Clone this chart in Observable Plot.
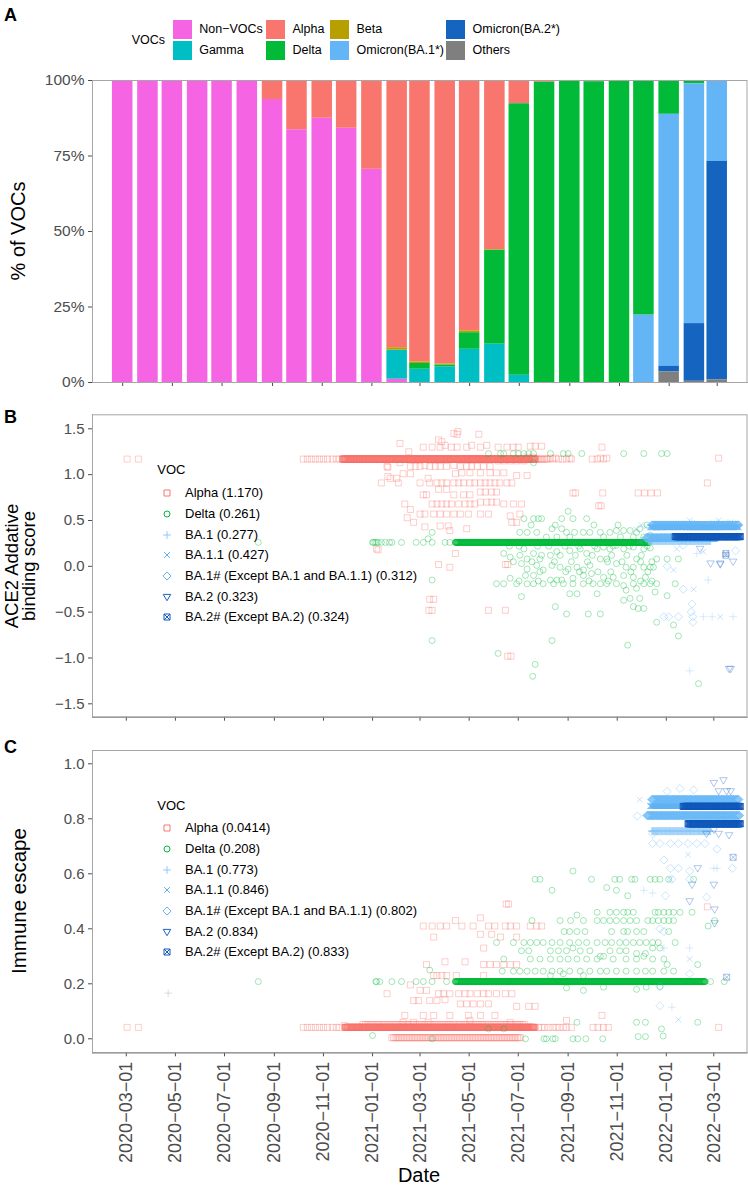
<!DOCTYPE html>
<html>
<head>
<meta charset="utf-8">
<script src="https://cdn.jsdelivr.net/npm/d3@7"></script>
<script src="https://cdn.jsdelivr.net/npm/@observablehq/plot@0.6"></script>
<style>
  body { margin: 0; background: #fff; }
  #fig { position: relative; width: 748px; height: 1185px; overflow: hidden;
         font-family: "Liberation Sans", Arial, Helvetica, sans-serif; color: #000; }
  #fig svg { position: absolute; left: 0; }
  .txt { position: absolute; white-space: nowrap; }
</style>
</head>
<body>
<div id="fig"></div>
<script>
// ---------------- Panel A: monthly share of VOCs (%) ----------------
const months = ["2020-03-01","2020-04-01","2020-05-01","2020-06-01","2020-07-01","2020-08-01","2020-09-01",
  "2020-10-01","2020-11-01","2020-12-01","2021-01-01","2021-02-01","2021-03-01","2021-04-01","2021-05-01",
  "2021-06-01","2021-07-01","2021-08-01","2021-09-01","2021-10-01","2021-11-01","2021-12-01","2022-01-01",
  "2022-02-01","2022-03-01"];
const vocNames = ["Non-VOCs","Gamma","Alpha","Delta","Beta","Omicron(BA.1*)","Omicron(BA.2*)","Others"];
const shareNonVOCs = [100,100,100,100,100,100,93.7,83.7,87.5,84.2,70.6,1.1,0,0,0,0,0,0,0,0,0,0,0,0,0];
const shareGamma   = [0,0,0,0,0,0,0,0,0,0,0,9.6,4.4,5.2,11.0,12.7,2.4,0,0,0,0,0,0,0,0];
const shareAlpha   = [0,0,0,0,0,0,6.3,16.3,12.5,15.8,29.4,88.5,93.2,93.9,82.9,56.0,7.7,0.6,0,0.4,0,0,0,0,0];
const shareDelta   = [0,0,0,0,0,0,0,0,0,0,0,0,1.9,0.6,5.5,31.1,89.9,99.4,100,99.6,100,77.7,11.2,1.1,0];
const shareBeta    = [0,0,0,0,0,0,0,0,0,0,0,0.8,0.5,0.3,0.6,0.2,0,0,0,0,0,0,0,0,0];
const shareBA1     = [0,0,0,0,0,0,0,0,0,0,0,0,0,0,0,0,0,0,0,0,0,22.3,83.4,79.4,26.8];
const shareBA2     = [0,0,0,0,0,0,0,0,0,0,0,0,0,0,0,0,0,0,0,0,0,0,1.9,19.1,72.3];
const shareOthers  = [0,0,0,0,0,0,0,0,0,0,0,0,0,0,0,0,0,0,0,0,0,0,3.5,0.4,0.9];
const stackOrder = ["Others","Omicron(BA.2*)","Omicron(BA.1*)","Non-VOCs","Gamma","Delta","Beta","Alpha"];

// shared date ticks and value ticks
const tickDates = ["2020-03-01","2020-05-01","2020-07-01","2020-09-01","2020-11-01","2021-01-01","2021-03-01",
  "2021-05-01","2021-07-01","2021-09-01","2021-11-01","2022-01-01","2022-03-01"];
const pctTicks = [0, 25, 50, 75, 100];
const bindingTicks = [-1.5, -1, -0.5, 0, 0.5, 1, 1.5];
const escapeTicks = [0, 0.2, 0.4, 0.6, 0.8, 1.0];

// ---------------- Panel B: ACE2 additive binding score ----------------
// runs: [first day, last day, score, every n days, sequences per sampled day]
const alphaRunsB = [["2020-11-25","2021-07-22",1.17,1,3],["2021-07-24","2021-08-08",1.17,2,1]];
const alphaRowsB = [
 [1.17, ["2020-03-02","2020-03-16","2020-10-07","2020-10-12","2020-10-17","2020-10-22","2020-10-27","2020-11-01","2020-11-06","2020-11-12","2020-11-17","2020-11-21","2021-08-13","2021-08-20","2021-08-25","2021-08-30","2021-09-05","2021-10-01","2021-10-07","2021-10-15"]],
 [1.47, ["2021-04-17"]], [1.45, ["2021-04-12"]], [1.44, ["2021-04-16","2021-05-13"]],
 [1.38, ["2021-03-24"]], [1.36, ["2021-03-28"]], [1.34, ["2021-02-04"]],
 [1.32, ["2021-04-01","2021-05-04","2021-05-23"]], [1.31, ["2021-07-16","2021-07-22","2021-07-30"]],
 [1.30, ["2021-03-05","2021-03-16","2021-03-26","2021-04-09","2021-04-16","2021-04-28","2021-05-15","2021-06-06","2021-06-17","2021-06-25","2021-07-01","2021-10-13"]],
 [1.25, ["2021-02-15"]], [1.19, ["2021-07-12","2021-07-20"]],
 [1.18, ["2021-08-10","2021-08-16","2021-09-03","2021-10-11","2021-10-19","2022-03-07"]],
 [1.15, ["2021-06-06","2021-06-13","2021-06-21","2021-06-29","2021-07-08"]],
 [1.13, ["2021-02-04"]], [1.10, ["2021-03-07","2021-04-12"]],
 [1.09, ["2021-01-19","2021-02-17","2021-02-23","2021-03-01","2021-03-13","2021-03-20","2021-03-26","2021-04-03","2021-04-20","2021-04-28","2021-05-04","2021-05-11","2021-05-19","2021-05-27"]],
 [1.08, ["2021-01-20"]],
 [1.02, ["2021-04-22","2021-05-02","2021-05-15","2021-05-27","2021-06-04","2021-06-13"]],
 [1.01, ["2021-02-08","2021-02-17","2021-04-14"]], [0.99, ["2021-06-29","2021-07-12"]],
 [0.98, ["2021-01-20"]], [0.96, ["2021-01-23","2021-01-31","2021-03-11"]],
 [0.91, ["2021-01-12","2021-02-02","2021-03-01","2021-03-13","2021-03-22","2021-03-28","2021-04-03","2021-04-12","2021-04-18","2021-04-24","2021-05-02","2021-05-08","2021-05-15","2021-05-21","2021-05-27","2021-06-02","2021-06-08","2021-06-17","2021-06-23","2022-02-21"]],
 [0.84, ["2021-03-24","2021-04-03"]], [0.81, ["2021-05-15","2021-05-21","2021-05-29","2021-06-04"]],
 [0.80, ["2021-09-07","2021-09-10","2021-10-14","2021-11-27","2021-12-05","2021-12-13","2021-12-21"]],
 [0.78, ["2021-03-05","2021-03-09","2021-04-12","2021-04-24","2021-05-02"]],
 [0.70, ["2021-05-15","2021-05-23","2021-05-29","2021-06-04"]],
 [0.68, ["2021-02-10","2021-03-16","2021-03-22","2021-03-28","2021-04-03","2021-04-09","2021-04-18","2021-04-26","2021-05-02","2021-05-08","2021-06-13","2021-06-25","2021-07-05"]],
 [0.66, ["2021-10-09","2021-10-12"]], [0.62, ["2021-02-17"]],
 [0.57, ["2021-03-01","2021-03-07","2021-03-18","2021-03-26","2021-04-03","2021-04-12","2021-04-20","2021-04-30","2021-05-15","2021-05-25","2021-07-03"]],
 [0.55, ["2021-06-21"]], [0.53, ["2021-02-13"]], [0.48, ["2021-02-21","2021-06-23","2021-06-29"]],
 [0.44, ["2021-03-26","2021-04-05"]], [0.43, ["2021-03-07"]], [0.41, ["2021-04-28"]], [0.39, ["2021-04-07"]],
 [0.19, ["2021-01-06"]], [0.18, ["2021-01-08"]], [0.14, ["2021-04-14"]],
 [0.02, ["2021-03-24","2021-06-15","2021-06-18"]], [-0.01, ["2021-04-07"]],
 [-0.36, ["2021-03-13","2021-03-18"]], [-0.48, ["2021-03-12","2021-03-16","2021-05-25","2021-06-15"]],
 [-0.98, ["2021-06-18","2021-06-22"]]
];
const deltaRunsB = [["2021-04-14","2021-12-10",0.261,1,3]];
const deltaRowsB = [
 [0.261, ["2020-08-12","2021-01-01","2021-01-02","2021-01-04","2021-01-06","2021-01-08","2021-01-12","2021-01-17","2021-01-22","2021-01-25","2021-02-06","2021-02-24","2021-03-05","2021-03-16","2021-04-01","2021-04-07"]],
 [1.23, ["2021-05-25","2021-06-09","2021-06-13","2021-06-25","2021-07-01","2021-07-08","2021-07-14","2021-07-20","2021-08-10","2021-08-26","2021-09-01","2021-09-18","2021-11-09","2021-12-04","2021-12-26","2022-01-02"]],
 [1.13, ["2021-07-20"]], [0.60, ["2021-09-01"]],
 [0.52, ["2021-07-08","2021-07-20","2021-07-26","2021-07-30","2021-08-24","2021-09-07","2021-09-24"]],
 [0.45, ["2021-07-17","2021-08-16","2021-10-03","2021-11-02","2021-12-08"]],
 [0.41, ["2021-08-12","2021-08-24","2021-11-29"]], [0.39, ["2021-10-31","2021-11-09","2021-11-17"]],
 [0.37, ["2021-03-16","2021-07-03","2021-07-12","2021-07-24","2021-08-30","2021-09-09","2021-09-20","2021-09-28","2021-10-11","2021-10-23","2021-11-25"]],
 [0.34, ["2021-12-12"]],
 [0.32, ["2021-08-05","2021-08-18","2021-09-03","2021-10-15","2021-11-05","2021-11-21","2021-12-04"]],
 [0.30, ["2021-03-11"]], [0.23, ["2021-10-31"]],
 [0.22, ["2021-06-20","2021-07-02","2021-07-25","2021-08-08","2021-08-28","2021-09-14","2021-10-04","2021-10-27","2021-11-16","2021-12-08"]],
 [0.21, ["2021-10-15","2021-11-21"]], [0.20, ["2021-12-12"]],
 [0.19, ["2021-07-08","2021-09-16","2021-10-07","2021-10-23","2021-11-09","2021-12-04"]],
 [0.17, ["2021-09-03"]], [0.16, ["2021-08-18"]], [0.14, ["2021-06-13","2021-07-20","2021-09-24"]],
 [0.12, ["2021-07-03","2021-07-30","2021-08-10","2021-08-22","2021-09-10","2021-10-01","2021-10-25","2021-11-13","2021-12-01"]],
 [0.10, ["2021-06-21"]],
 [0.08, ["2021-07-12","2021-07-28","2021-10-11","2021-10-19","2021-11-25","2021-12-20","2022-01-02","2022-01-16"]],
 [0.05, ["2021-06-25","2021-07-18","2021-08-15","2021-09-05","2021-09-25","2021-10-20","2021-11-07","2021-11-30","2021-12-14"]],
 [0.03, ["2021-07-05","2021-10-31"]], [0.01, ["2021-07-24","2021-08-12","2021-09-28"]],
 [-0.01, ["2021-08-22","2021-09-12","2021-11-12","2021-11-21","2021-12-04","2021-12-12","2021-12-16"]],
 [-0.03, ["2021-07-12","2021-09-01"]], [-0.04, ["2021-08-01","2021-09-20"]],
 [-0.06, ["2021-07-28","2021-08-29","2021-09-15","2021-10-08","2021-10-24","2021-11-18","2021-12-09"]],
 [-0.08, ["2021-09-30"]],
 [-0.10, ["2021-07-10","2021-07-20","2021-09-20","2021-11-09"]],
 [-0.12, ["2021-10-15","2021-10-27","2021-11-21","2021-12-06"]], [-0.13, ["2021-06-21","2021-09-07"]],
 [-0.15, ["2021-03-16","2021-08-10","2021-08-18","2021-08-24"]],
 [-0.16, ["2021-07-02","2021-07-26","2021-09-27","2021-10-21","2021-11-30","2021-12-14"]],
 [-0.19, ["2021-06-04","2021-06-13","2021-06-29","2021-07-12","2021-07-20","2021-08-01","2021-08-14","2021-08-26","2021-09-07","2021-09-20","2021-10-02","2021-10-11","2021-10-19","2021-10-31","2021-11-21","2021-12-04","2021-12-12","2021-12-20","2022-01-12"]],
 [-0.21, ["2021-11-09"]], [-0.24, ["2021-11-25"]], [-0.26, ["2021-11-12"]], [-0.28, ["2021-12-18"]],
 [-0.30, ["2021-09-03","2021-09-12","2021-10-07"]], [-0.32, ["2022-01-02"]], [-0.33, ["2021-07-05"]],
 [-0.35, ["2021-11-17","2021-11-29"]], [-0.37, ["2021-11-09"]], [-0.44, ["2021-08-16","2021-11-21"]],
 [-0.46, ["2021-11-27","2021-12-04"]], [-0.52, ["2021-08-30","2021-09-26","2021-10-11"]],
 [-0.61, ["2021-12-20"]], [-0.64, ["2022-01-10"]], [-0.76, ["2022-01-16"]], [-0.81, ["2021-03-16","2021-08-12"]],
 [-0.86, ["2021-11-14"]], [-0.95, ["2021-06-06"]], [-1.07, ["2021-07-22"]], [-1.20, ["2021-07-19"]], [-1.28, ["2022-02-10"]]
];
const ba1RunsB = [["2021-12-10","2022-02-25",0.277,1,3]];
const ba1RowsB = [[0.14,["2022-02-08"]],[-0.15,["2022-02-22"]],[-0.55,["2022-02-16","2022-02-27","2022-03-25"]],[-1.14,["2022-01-30"]]];
const ba11RunsB = [["2021-12-12","2022-04-01",0.427,1,3]];
const ba11RowsB = [[0.50,["2022-01-30","2022-03-07"]],[0.48,["2022-03-22"]],[0.45,["2021-12-01"]],[0.43,["2021-12-07"]],[0.40,["2021-11-25"]],[0.29,["2021-12-03"]],[0.27,["2021-11-29"]],[0.19,["2022-01-14"]],[0.16,["2022-02-16"]],[-0.04,["2022-01-10"]],[-0.25,["2022-02-04"]],[-0.55,["2022-03-09"]]];
const ba1sRunsB = [["2021-12-14","2022-04-01",0.45,1,3],["2021-12-07","2022-03-05",0.312,1,3]];
const ba1sRowsB = [[0.23,["2022-01-22"]],[0.17,["2022-03-28"]],[0.00,["2022-01-02"]],[-0.25,["2022-01-22"]],[-0.41,["2022-02-02"]],[-0.50,["2022-02-01"]],[-0.55,["2021-12-29","2022-01-04","2022-01-16","2022-02-03"]],[-0.61,["2022-02-03"]]];
const ba2RunsB = [];
const ba2RowsB = [[0.323,["2022-02-05","2022-02-14","2022-02-24","2022-03-06","2022-03-16","2022-03-26"]],[0.19,["2022-02-12"]],[0.05,["2022-03-25"]],[0.03,["2022-02-25","2022-03-09"]],[0.02,["2022-03-09"]],[-1.12,["2022-03-20","2022-03-22"]]];
const ba2sRunsB = [["2022-01-12","2022-04-03",0.324,1,3]];
const ba2sRowsB = [[0.12,["2022-03-16"]],[0.14,["2022-03-16"]]];
const legendB = ["Alpha (1.170)","Delta (0.261)","BA.1 (0.277)","BA.1.1 (0.427)","BA.1# (Except BA.1 and BA.1.1) (0.312)","BA.2 (0.323)","BA.2# (Except BA.2) (0.324)"];

// ---------------- Panel C: immune escape ----------------
const alphaRunsC = [["2020-11-28","2021-07-21",0.0414,1,3],["2020-12-20","2021-07-10",0.052,3,1],["2021-01-25","2021-07-05",0.004,2,1]];
const alphaRowsC = [
 [0.0414, ["2020-03-02","2020-03-16","2020-10-07","2020-10-12","2020-10-17","2020-10-22","2020-10-27","2020-11-01","2020-11-06","2020-11-12","2020-11-17","2020-11-21","2021-07-26","2021-07-30","2021-08-03","2021-08-08","2021-08-13","2021-08-17","2021-08-21","2021-08-26","2021-08-30","2021-09-05","2021-10-02","2021-10-08","2021-10-15","2021-10-21","2022-03-07"]],
 [0.048, ["2020-11-27"]], [0.49, ["2021-06-16","2021-06-19"]], [0.48, ["2022-02-21"]], [0.44, ["2021-05-15"]], [0.43, ["2021-04-14"]],
 [0.41, ["2021-03-05","2021-03-16","2021-03-26","2021-04-03","2021-04-22","2021-05-06","2021-05-25","2021-06-02","2021-06-15","2021-06-21","2021-06-29","2021-07-16","2021-07-24","2021-07-30"]],
 [0.38, ["2021-05-15","2021-05-29"]], [0.37, ["2021-03-18","2021-06-09","2021-06-29"]], [0.33, ["2021-05-19"]],
 [0.28, ["2021-04-01","2021-04-26"]],
 [0.27, ["2021-03-09","2021-05-19","2021-05-27","2021-06-04","2021-06-13","2021-06-21","2021-06-29"]],
 [0.23, ["2021-03-18","2021-03-22","2021-03-28","2021-04-03","2021-04-15","2021-05-19"]],
 [0.196, ["2021-02-17"]], [0.176, ["2021-03-01","2021-03-09"]],
 [0.164, ["2021-01-19","2021-03-24","2021-03-30","2021-04-07","2021-04-18","2021-04-26","2021-05-02","2021-05-11","2021-05-19","2021-05-25","2021-06-04","2021-06-15","2021-06-23"]],
 [0.142, ["2021-04-01"]], [0.139, ["2021-02-21","2021-02-27","2021-03-13","2021-03-22"]],
 [0.127, ["2021-04-20","2021-04-28","2021-05-06","2021-05-15","2021-05-25"]], [0.118, ["2021-06-29","2021-07-14","2021-07-22"]],
 [0.085, ["2021-02-10","2021-03-05","2021-03-18","2021-04-07","2021-04-30","2021-05-15","2021-06-02","2021-10-13"]],
 [0.067, ["2021-05-02","2021-08-30"]], [0.06, ["2021-02-08","2021-02-21","2021-03-11","2021-06-21"]]
];
const deltaRunsC = [["2021-04-14","2022-02-18",0.208,1,3]];
const deltaRowsC = [
 [0.208, ["2020-08-12","2021-01-05","2021-01-06","2021-01-10","2021-01-25","2021-02-06","2021-02-24","2021-03-05","2021-03-16","2021-04-03","2022-02-25","2022-03-14"]],
 [0.61, ["2021-09-07"]],
 [0.58, ["2021-07-22","2021-07-28","2021-09-30","2021-10-29","2021-11-04","2021-11-19","2021-11-23","2021-12-12","2021-12-18","2021-12-24","2022-01-04","2022-02-04"]],
 [0.55, ["2021-10-19"]], [0.54, ["2021-08-12","2021-10-31"]], [0.52, ["2021-11-14"]],
 [0.46, ["2021-10-07","2021-10-23","2021-10-31","2021-11-09","2021-11-14","2021-11-21","2021-12-18","2021-12-22","2021-12-29","2022-01-04","2022-01-10","2022-01-18","2022-02-02"]],
 [0.45, ["2021-09-12"]],
 [0.43, ["2021-07-18","2021-08-22","2021-09-04","2021-09-20","2021-10-07","2021-10-15","2021-10-23","2021-10-31","2021-11-09","2021-11-17","2021-11-25","2021-12-09","2021-12-15","2021-12-22","2021-12-29","2022-01-04","2022-01-10","2022-03-02"]],
 [0.41, ["2022-02-22"]],
 [0.39, ["2021-08-27","2021-09-03","2021-09-12","2021-09-22","2021-10-25","2021-11-09","2021-11-14","2021-11-25","2021-12-04","2022-01-04"]],
 [0.35, ["2021-06-04","2021-06-25","2021-07-08","2021-07-16","2021-07-24","2021-08-01","2021-08-12","2021-08-22","2021-09-03","2021-09-14","2021-09-24","2021-10-07","2021-10-17","2021-10-25","2021-11-04","2021-11-12","2021-11-21","2021-11-29","2021-12-07","2021-12-15","2021-12-22","2022-01-12"]],
 [0.33, ["2021-09-07","2021-12-15","2021-12-24"]],
 [0.32, ["2021-07-05","2021-07-14","2021-08-10","2021-08-20","2021-08-30","2021-09-16","2021-09-28","2021-10-23","2021-11-04","2021-11-12"]],
 [0.31, ["2021-11-25","2021-12-06"]], [0.30, ["2021-10-11","2021-10-15","2021-12-04"]],
 [0.29, ["2021-06-13","2021-07-16","2021-07-28","2021-08-10","2021-08-22","2021-09-01","2021-09-12","2021-09-24","2021-10-07","2021-10-27","2021-11-12","2021-11-25","2021-12-15","2021-12-29"]],
 [0.27, ["2022-01-02","2022-02-09"]], [0.25, ["2021-03-13"]],
 [0.246, ["2021-06-11","2021-06-25","2021-07-03","2021-07-12","2021-07-22","2021-08-01","2021-08-12","2021-08-22","2021-09-03","2021-09-16","2021-09-28","2021-10-11","2021-10-19","2021-10-31","2021-11-12","2021-11-25","2021-12-06","2021-12-15","2021-12-29","2022-01-10"]],
 [0.236, ["2021-08-26"]], [0.23, ["2021-08-10","2021-09-20"]], [0.19, ["2021-12-24"]],
 [0.188, ["2021-10-15","2021-12-07"]], [0.185, ["2021-08-30"]], [0.18, ["2021-11-25"]], [0.176, ["2021-09-20"]],
 [0.06, ["2021-09-12","2021-11-25","2021-12-06","2022-02-09"]], [0.036, ["2021-05-25","2021-06-13","2021-12-26"]],
 [0.012, ["2021-01-01"]], [0.01, ["2021-12-28"]], [0.008, ["2021-11-27","2021-12-06"]],
 [0.0, ["2021-03-16","2021-07-10","2021-08-02","2021-08-05","2021-08-13","2021-08-16","2021-09-07","2021-09-13","2021-09-23","2021-10-14"]]
];
const ba1RunsC = [["2021-12-14","2022-02-25",0.755,1,3]];
const ba1RowsC = [[0.62,["2022-03-01","2022-03-05"]],[0.54,["2021-12-04"]],[0.53,["2021-12-15"]],[0.33,["2021-12-29","2022-01-30"]],[0.115,["2022-01-08"]]];
const ba11RunsC = [["2021-12-12","2022-02-10",0.846,1,3]];
const ba11RowsC = [[0.87,["2021-11-29"]],[0.67,["2022-01-28"]],[0.58,["2022-01-06"]],[0.29,["2022-01-30"]],[0.07,["2022-01-16"]]];
const ba1sRunsC = [["2021-12-14","2022-04-01",0.87,1,3],["2021-12-08","2022-04-02",0.812,1,3]];
const ba1sRowsC = [[0.905,["2022-02-04"]],[0.91,["2022-01-18"]],[0.90,["2022-01-02"]],[0.81,["2021-11-26"]],[0.745,["2021-12-15"]],
 [0.71,["2021-12-15","2021-12-24","2022-01-06","2022-01-16","2022-01-28","2022-02-08","2022-02-18"]],[0.69,["2022-03-05"]],[0.65,["2021-12-29"]],
 [0.62,["2022-01-06","2022-01-16","2022-03-24"]],[0.61,["2022-01-30"]],[0.58,["2022-01-08","2022-01-30"]],[0.52,["2021-12-31"]],[0.515,["2022-02-20"]],
 [0.40,["2021-12-24"]],[0.39,["2021-12-29"]],[0.236,["2022-01-30"]],[0.19,["2021-12-24"]],[0.12,["2021-12-24"]]];
const ba2RunsC = [];
const ba2RowsC = [[0.94,["2022-03-13"]],[0.93,["2022-03-01"]],[0.90,["2022-03-07","2022-03-17","2022-03-22"]],[0.76,["2022-03-01"]],[0.745,["2022-02-20","2022-03-07"]],[0.74,["2022-03-20"]],[0.62,["2022-02-09"]],[0.56,["2022-02-02","2022-03-01"]],[0.50,["2022-01-30"]],[0.47,["2022-03-02"]],[0.42,["2022-03-02"]]];
const ba2sRunsC = [["2022-01-22","2022-04-03",0.845,1,3],["2022-01-28","2022-04-03",0.782,1,3]];
const ba2sRowsC = [[0.66,["2022-03-25"]],[0.224,["2022-03-17"]]];
const unassignedRowsC = [[0.166,["2020-04-22"]]];
const legendC = ["Alpha (0.0414)","Delta (0.208)","BA.1 (0.773)","BA.1.1 (0.846)","BA.1# (Except BA.1 and BA.1.1) (0.802)","BA.2 (0.834)","BA.2# (Except BA.2) (0.833)"];

// ---------------- styling ----------------
const vocColors = ["#F564E3","#00BFC4","#F8766D","#00BA38","#B79F00","#64B5F6","#1565C0","#7F7F7F"];
const lineageColors = {Alpha:"#F8766D", Delta:"#00BA38", BA1:"#90CAF9", BA11:"#5AAEF2", BA1s:"#64B5F6", BA2:"#1E63C8", BA2s:"#1559BC", none:"#9E9E9E"};
const FONT = "'Liberation Sans', Arial, Helvetica, sans-serif";

// hollow marker shapes; size arrives as pi*r^2
const rad = s => Math.sqrt(s / Math.PI);
const SHAPES = {
  square:  {draw(c, s) { const r = rad(s); c.rect(-r, -r, 2 * r, 2 * r); }},
  circle:  {draw(c, s) { const r = rad(s); c.moveTo(r, 0); c.arc(0, 0, r, 0, 2 * Math.PI); }},
  plus:    {draw(c, s) { const r = rad(s) * 1.3; c.moveTo(-r, 0); c.lineTo(r, 0); c.moveTo(0, -r); c.lineTo(0, r); }},
  times:   {draw(c, s) { const r = rad(s) * 0.95; c.moveTo(-r, -r); c.lineTo(r, r); c.moveTo(-r, r); c.lineTo(r, -r); }},
  diamond: {draw(c, s) { const r = rad(s) * 1.35; c.moveTo(0, -r); c.lineTo(r, 0); c.lineTo(0, r); c.lineTo(-r, 0); c.closePath(); }},
  triDown: {draw(c, s) { const r = rad(s) * 1.25; c.moveTo(-r, -r * 0.7); c.lineTo(r, -r * 0.7); c.lineTo(0, r); c.closePath(); }},
  squareX: {draw(c, s) { const r = rad(s); c.rect(-r, -r, 2 * r, 2 * r); c.moveTo(-r, -r); c.lineTo(r, r); c.moveTo(-r, r); c.lineTo(r, -r); }}
};
const lineageStyle = [
  ["Alpha","square"],["Delta","circle"],["BA1","plus"],["BA11","times"],["BA1s","diamond"],["BA2","triDown"],["BA2s","squareX"]
];

// ---------------- helpers ----------------
const day = s => new Date(s + "T00:00:00Z");
const expandRuns = runs => runs.flatMap(([a, b, score, step = 1, perDay = 1]) =>
  d3.utcDay.range(day(a), d3.utcDay.offset(day(b), 1), step)
    .flatMap(date => d3.range(perDay).map(() => ({date, score}))));
const expandRows = rows => rows.flatMap(([score, dates]) => dates.map(s => ({date: day(s), score})));
const ticksX = tickDates.map(day);
const fig = document.getElementById("fig");

function addText(txt, css) {
  const d = document.createElement("div");
  d.className = "txt";
  d.style.cssText += css;
  d.innerHTML = txt;
  fig.appendChild(d);
  return d;
}
function placeSvg(svg, top) { svg.style.top = top + "px"; fig.appendChild(svg); }

const baseStyle = {fontFamily: FONT, fontSize: "15px", color: "#4D4D4D", background: "transparent", overflow: "visible"};

// ---------------- Panel A ----------------
const shares = [shareNonVOCs, shareGamma, shareAlpha, shareDelta, shareBeta, shareBA1, shareBA2, shareOthers];
const barRows = months.flatMap((m, i) => vocNames.map((v, k) => ({month: day(m), voc: v, pct: shares[k][i]})));
const halfBar = 12.6 * 864e5;

const plotA = Plot.plot({
  width: 748, height: 400, marginLeft: 92, marginRight: 1.5, marginTop: 80, marginBottom: 18,
  style: {...baseStyle, fontSize: "15.5px"},
  x: {type: "utc", domain: [new Date("2020-01-23T22:00Z"), new Date("2022-04-06T14:00Z")],
      ticks: ticksX, tickFormat: () => "", tickSize: 4, line: true, label: null},
  y: {domain: [0, 100], ticks: pctTicks, tickFormat: d => d + "%", tickSize: 4, tickPadding: 4, line: true, label: null},
  color: {domain: vocNames, range: vocColors},
  marks: [
    Plot.rectY(barRows, Plot.stackY({
      x1: d => new Date(+d.month - halfBar), x2: d => new Date(+d.month + halfBar),
      y: "pct", fill: "voc", order: stackOrder
    })),
    Plot.frame({stroke: "#A6A6A6"})
  ]
});
placeSvg(plotA, 0);

// ---------------- Panels B and C ----------------
const xBC = [new Date("2020-01-19T00:00Z"), new Date("2022-04-11T06:00Z")];

function scatterMarks(sets) {
  return sets.map(([key, shape, runs, rows]) =>
    Plot.dot([...expandRuns(runs), ...expandRows(rows)], {
      x: "date", y: "score", symbol: SHAPES[shape], r: 3,
      stroke: lineageColors[key], strokeOpacity: 0.4, strokeWidth: 0.9, fill: "none"
    }));
}

const setsB = [
  ["Alpha","square",alphaRunsB,alphaRowsB],["Delta","circle",deltaRunsB,deltaRowsB],
  ["BA1","plus",ba1RunsB,ba1RowsB],["BA11","times",ba11RunsB,ba11RowsB],
  ["BA1s","diamond",ba1sRunsB,ba1sRowsB],["BA2","triDown",ba2RunsB,ba2RowsB],["BA2s","squareX",ba2sRunsB,ba2sRowsB]
];
const plotB = Plot.plot({
  width: 748, height: 330, marginLeft: 92, marginRight: 1.5, marginTop: 14.3, marginBottom: 13.3,
  style: baseStyle,
  x: {type: "utc", domain: xBC, ticks: ticksX, tickFormat: () => "", tickSize: 4, line: true, label: null},
  y: {domain: [-1.646, 1.653], ticks: bindingTicks, tickFormat: d3.format(".1f"), tickSize: 4, tickPadding: 4, line: true, label: null},
  marks: [Plot.frame({stroke: "#A6A6A6"}), ...scatterMarks(setsB)]
});
placeSvg(plotB, 400);

const setsC = [
  ["Alpha","square",alphaRunsC,alphaRowsC],["Delta","circle",deltaRunsC,deltaRowsC],
  ["BA1","plus",ba1RunsC,ba1RowsC],["BA11","times",ba11RunsC,ba11RowsC],
  ["BA1s","diamond",ba1sRunsC,ba1sRowsC],["BA2","triDown",ba2RunsC,ba2RowsC],["BA2s","squareX",ba2sRunsC,ba2sRowsC],
  ["none","plus",[],unassignedRowsC]
];
const dateLabel = d3.utcFormat("%Y-%m-%d");
const plotC = Plot.plot({
  width: 748, height: 455, marginLeft: 92, marginRight: 1.5, marginTop: 20, marginBottom: 132.7,
  style: baseStyle,
  x: {type: "utc", domain: xBC, ticks: ticksX, tickFormat: d => dateLabel(d).replace(/-/g, "\u2212"),
      tickRotate: -90, tickSize: 4, tickPadding: 5, line: true, label: null},
  y: {domain: [-0.0509, 1.0484], ticks: escapeTicks, tickFormat: d3.format(".1f"), tickSize: 4, tickPadding: 4, line: true, label: null},
  marks: [Plot.frame({stroke: "#A6A6A6"}), ...scatterMarks(setsC)]
});
placeSvg(plotC, 730);
// larger date labels on the shared bottom axis
plotC.querySelectorAll('[aria-label="x-axis tick label"] text, [aria-label="x-axis"] text')
  .forEach(t => t.setAttribute("font-size", "18"));

// ---------------- titles and panel letters ----------------
const vtitle = (html, cx, cy, size, lh) => addText(html,
  `left:${cx}px;top:${cy}px;transform:translate(-50%,-50%) rotate(-90deg);text-align:center;font-size:${size}px;line-height:${lh}px;`);
vtitle("% of VOCs", 17.5, 231, 20, 20);
vtitle("ACE2 Addative<br>binding score", 19.5, 565.5, 18.5, 17);
vtitle("Immune escape", 18.5, 901, 20.5, 20);
addText("Date", "left:419px;top:1175px;transform:translate(-50%,-50%);font-size:20px;line-height:20px;");
[["A", 6], ["B", 407.7], ["C", 737.7]].forEach(([t, top]) =>
  addText(t, `left:4px;top:${top}px;font-size:18px;line-height:18px;font-weight:bold;`));

// ---------------- Panel A legend ----------------
addText("VOCs", "left:131.7px;top:31px;font-size:12.5px;line-height:19px;");
const colX = [172.7, 266, 330, 446];
vocNames.forEach((v, i) => {
  const col = Math.floor(i / 2), row = i % 2, top = row ? 40.7 : 20.3;
  addText("", `left:${colX[col]}px;top:${top}px;width:19px;height:19px;background:${vocColors[i]};`);
  addText(v.replace("-", "\u2212"), `left:${colX[col] + 26.5}px;top:${top}px;font-size:12.5px;line-height:19px;`);
});

// ---------------- Panels B/C legends ----------------
function markerSvg(key, shape) {
  const p = d3.path();
  SHAPES[shape].draw(p, Math.PI * 9);
  return `<svg width="14" height="14" viewBox="-7 -7 14 14" style="position:static;display:block"><path d="${p}" fill="none" stroke="${lineageColors[key]}" stroke-width="1"/></svg>`;
}
function lineageLegend(labels, titleCy, firstCy) {
  addText("VOC", `left:157.3px;top:${titleCy - 10}px;font-size:13px;line-height:20px;`);
  labels.forEach((lab, i) => {
    const cy = firstCy + i * 20.67;
    const [key, shape] = lineageStyle[i];
    addText(markerSvg(key, shape), `left:${167.3 - 7}px;top:${cy - 7}px;`);
    addText(lab, `left:185px;top:${cy - 10}px;font-size:13px;line-height:20px;`);
  });
}
lineageLegend(legendB, 470, 493.3);
lineageLegend(legendC, 806, 828.3);
</script>
</body>
</html>
